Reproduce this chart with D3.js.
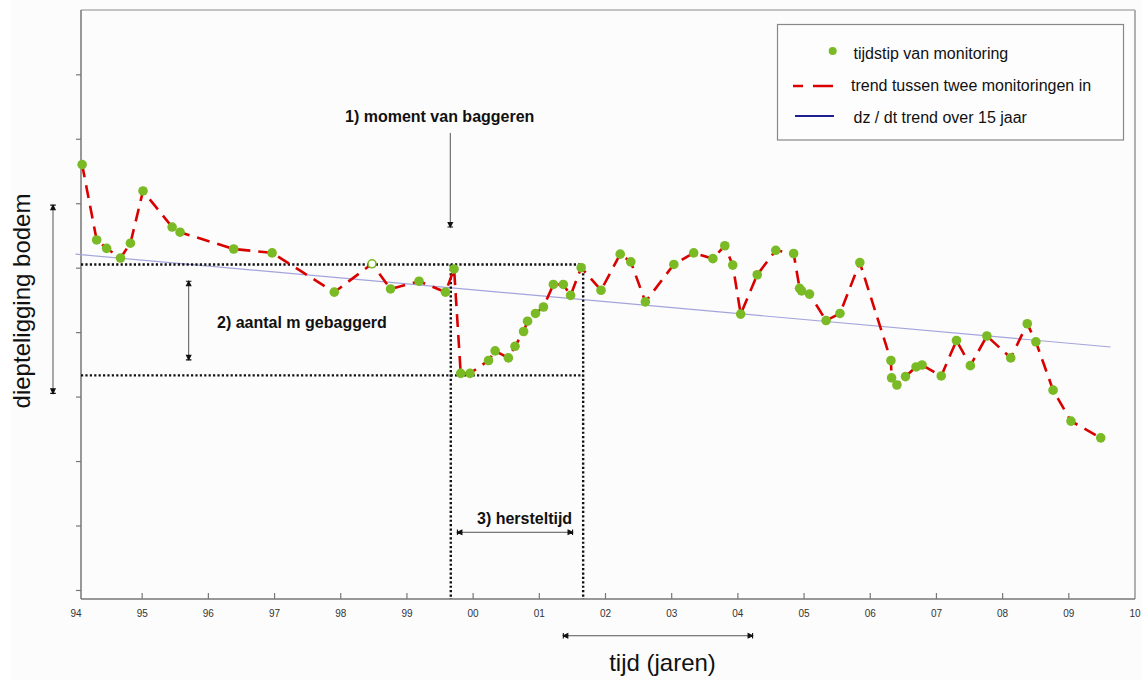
<!DOCTYPE html>
<html>
<head>
<meta charset="utf-8">
<script src="https://cdn.jsdelivr.net/npm/d3@7"></script>
<style>
body { margin: 0; background: #fff; font-family: "Liberation Sans", Arial, sans-serif; }
</style>
</head>
<body>
<svg id="chart" width="1142" height="680"></svg>
<script>
// monitoring moments (decimal year) and bed level (m, arbitrary reference)
var monitorYears = [1994.10, 1994.32, 1994.47, 1994.68, 1994.83, 1995.02, 1995.46, 1995.58, 1996.39, 1996.97,
    1997.91, 1998.48, 1998.76, 1999.19, 1999.59, 1999.72, 1999.82, 1999.96, 2000.24, 2000.34,
    2000.54, 2000.64, 2000.77, 2000.83, 2000.95, 2001.07, 2001.22, 2001.37, 2001.48, 2001.64,
    2001.94, 2002.23, 2002.39, 2002.61, 2003.04, 2003.34, 2003.63, 2003.81, 2003.93, 2004.05,
    2004.30, 2004.58, 2004.85, 2004.94, 2004.97, 2005.09, 2005.34, 2005.55, 2005.85, 2006.32,
    2006.33, 2006.41, 2006.54, 2006.70, 2006.79, 2007.08, 2007.31, 2007.52, 2007.77, 2008.13,
    2008.38, 2008.51, 2008.77, 2009.04, 2009.49];
var bedLevels = [-2.40, -3.57, -3.70, -3.85, -3.62, -2.81, -3.37, -3.45, -3.71, -3.77,
    -4.38, -3.94, -4.33, -4.21, -4.38, -4.02, -5.64, -5.64, -5.44, -5.29,
    -5.40, -5.22, -4.99, -4.83, -4.71, -4.61, -4.26, -4.26, -4.43, -4.00,
    -4.35, -3.79, -3.91, -4.53, -3.95, -3.77, -3.86, -3.66, -3.96, -4.72,
    -4.11, -3.73, -3.78, -4.32, -4.36, -4.41, -4.82, -4.71, -3.92, -5.44,
    -5.71, -5.82, -5.69, -5.54, -5.51, -5.68, -5.13, -5.52, -5.06, -5.40,
    -4.87, -5.15, -5.90, -6.38, -6.64];
var openYears = [1998.48];

// 15 year trend line
var trendYears = [1994.0, 2009.64];
var trendLevels = [-3.79, -5.23];

var xTickYears = [1994, 1995, 1996, 1997, 1998, 1999, 2000, 2001, 2002, 2003, 2004, 2005, 2006, 2007, 2008, 2009, 2010];
var xTickLabels = ['94', '95', '96', '97', '98', '99', '00', '01', '02', '03', '04', '05', '06', '07', '08', '09', '10'];
var yTickLevels = [-1, -2, -3, -4, -5, -6, -7, -8, -9];

var legendLabels = ['tijdstip van monitoring', 'trend tussen twee monitoringen in', 'dz / dt trend over 15 jaar'];

// dredging annotation
var dredgeYear = 1999.67;
var recoveryYear = 2001.67;
var levelBefore = -3.95;
var levelAfter = -5.67;

var width = 1142, height = 680;
var plotLeft = 81, plotTop = 10, plotRight = 1135, plotBottom = 599;

var svg = d3.select('#chart');
var x = d3.scaleLinear().domain([1994, 2010]).range([75.5, 1134.5]);
var y = d3.scaleLinear().domain([0, -9.14]).range([9.84, 599]);

svg.append('rect').attr('width', width).attr('height', height).style('fill', '#fcfcfc');
svg.append('rect').attr('width', 11).attr('height', height).style('fill', '#ffffff');

// markers for the annotation arrows
var defs = svg.append('defs');
defs.append('marker')
    .attr('id', 'bar')
    .attr('viewBox', '-7 -5 9 10')
    .attr('refX', 0).attr('refY', 0)
    .attr('markerUnits', 'userSpaceOnUse')
    .attr('markerWidth', 9).attr('markerHeight', 10)
    .attr('orient', 'auto-start-reverse')
    .append('path')
    .attr('d', 'M-4.5,-2.2 L0,0 L-4.5,2.2 Z M0,-2.8 L0,2.8')
    .style('fill', '#111').style('stroke', '#111').style('stroke-width', 1.1);

// frame
svg.append('line').attr('x1', plotLeft).attr('y1', plotTop).attr('x2', plotRight).attr('y2', plotTop)
    .style('stroke', '#8a8a8a').style('stroke-width', 1.2);
svg.append('line').attr('x1', plotRight).attr('y1', plotTop).attr('x2', plotRight).attr('y2', plotBottom)
    .style('stroke', '#b0b0b0').style('stroke-width', 2);

// axes
var xAxis = d3.axisBottom(x)
    .tickValues(xTickYears)
    .tickFormat(function(d, i) { return xTickLabels[i]; })
    .tickSizeInner(-6).tickSizeOuter(0).tickPadding(11);
var gx = svg.append('g').attr('transform', 'translate(0,' + plotBottom + ')').call(xAxis);
gx.select('.domain').remove();
gx.selectAll('.tick line')
    .style('stroke', '#777').style('stroke-width', 1.2)
    .style('display', function(d) { return (d === 1994 || d === 2010) ? 'none' : null; });
gx.selectAll('.tick text').style('font-size', '10px').style('fill', '#333')
    .style('font-family', '"Liberation Sans", Arial, sans-serif');
svg.append('line').attr('x1', plotLeft).attr('y1', plotBottom).attr('x2', plotRight).attr('y2', plotBottom)
    .style('stroke', '#777').style('stroke-width', 1.5);

var yAxis = d3.axisLeft(y).tickValues(yTickLevels).tickSize(5).tickFormat('');
var gy = svg.append('g').attr('transform', 'translate(' + plotLeft + ',0)').call(yAxis);
gy.select('.domain').remove();
gy.selectAll('.tick line').style('stroke', '#777').style('stroke-width', 1.2);
svg.append('line').attr('x1', plotLeft).attr('y1', plotTop).attr('x2', plotLeft).attr('y2', plotBottom)
    .style('stroke', '#777').style('stroke-width', 1.5);

// trend over 15 years
svg.append('line')
    .attr('x1', x(trendYears[0])).attr('y1', y(trendLevels[0]))
    .attr('x2', x(trendYears[1])).attr('y2', y(trendLevels[1]))
    .style('stroke', '#a4a4dc').style('stroke-width', 1.1);

// dotted dredging box
var dotted = svg.append('g').style('stroke', '#111').style('stroke-width', 2.4).style('stroke-dasharray', '2.2,2.2');
dotted.append('line').attr('x1', plotLeft).attr('x2', x(recoveryYear)).attr('y1', y(levelBefore)).attr('y2', y(levelBefore));
dotted.append('line').attr('x1', plotLeft).attr('x2', x(recoveryYear)).attr('y1', y(levelAfter)).attr('y2', y(levelAfter));
dotted.append('line').attr('x1', x(dredgeYear)).attr('x2', x(dredgeYear)).attr('y1', y(levelBefore)).attr('y2', plotBottom);
dotted.append('line').attr('x1', x(recoveryYear)).attr('x2', x(recoveryYear)).attr('y1', y(levelBefore)).attr('y2', plotBottom);

// dashed trend between monitorings
var points = monitorYears.map(function(d, i) { return {t: d, z: bedLevels[i]}; });
var line = d3.line().x(function(d) { return x(d.t); }).y(function(d) { return y(d.z); });
svg.append('path')
    .datum(points)
    .attr('d', line)
    .style('fill', 'none')
    .style('stroke', '#d90000')
    .style('stroke-width', 2.6)
    .style('stroke-dasharray', '13,8');

svg.selectAll('circle.pt')
    .data(points)
    .enter()
    .append('circle')
    .attr('class', 'pt')
    .attr('cx', function(d) { return x(d.t); })
    .attr('cy', function(d) { return y(d.z); })
    .attr('r', function(d) { return openYears.indexOf(d.t) >= 0 ? 4 : 4.8; })
    .style('fill', function(d) { return openYears.indexOf(d.t) >= 0 ? '#fcfcfc' : '#7aba24'; })
    .style('stroke', function(d) { return openYears.indexOf(d.t) >= 0 ? '#7aba24' : 'none'; })
    .style('stroke-width', 1.6);

// annotation arrows
function arrow(x1, y1, x2, y2, both) {
    var l = svg.append('line')
        .attr('x1', x1).attr('y1', y1).attr('x2', x2).attr('y2', y2)
        .style('stroke', '#555').style('stroke-width', 1)
        .attr('marker-end', 'url(#bar)');
    if (both) l.attr('marker-start', 'url(#bar)');
}
arrow(x(dredgeYear) - 0.5, y(-1.91), x(dredgeYear) - 0.5, y(-3.37), false);
arrow(x(1995.71), y(-4.21), x(1995.71), y(-5.43), true);
arrow(x(1993.66), y(-3.03), x(1993.66), y(-5.95), true);
arrow(x(1999.77), y(-8.105), x(2001.51), y(-8.105), true);
arrow(x(2001.37), y(-9.71), x(2004.23), y(-9.71), true);

var notes = svg.append('g')
    .style('font-weight', 'bold').style('font-size', '16px').style('fill', '#111')
    .style('font-family', '"Liberation Sans", Arial, sans-serif');
notes.append('text').attr('x', 345).attr('y', 122).text('1) moment van baggeren');
notes.append('text').attr('x', 217).attr('y', 328).text('2) aantal m gebaggerd');
notes.append('text').attr('x', 477).attr('y', 524).text('3) hersteltijd');

// axis titles
svg.append('text')
    .attr('x', 662.5).attr('y', 671)
    .attr('text-anchor', 'middle')
    .style('font-size', '24px').style('fill', '#111')
    .text('tijd (jaren)');
svg.append('text')
    .attr('transform', 'translate(30,301) rotate(-90)')
    .attr('text-anchor', 'middle')
    .style('font-size', '24px').style('fill', '#111')
    .text('diepteligging bodem');

// legend
var legend = svg.append('g');
legend.append('rect')
    .attr('x', 777.5).attr('y', 24.5).attr('width', 346).attr('height', 115.5)
    .style('fill', '#fdfdfd').style('stroke', '#888').style('stroke-width', 1.2);
legend.append('circle').attr('cx', 832.7).attr('cy', 51).attr('r', 4).style('fill', '#7aba24');
legend.append('line').attr('x1', 793).attr('x2', 834).attr('y1', 86).attr('y2', 86)
    .style('stroke', '#d90000').style('stroke-width', 2.6).style('stroke-dasharray', '10,10,20');
legend.append('line').attr('x1', 795).attr('x2', 834).attr('y1', 116).attr('y2', 116)
    .style('stroke', '#1f1f8f').style('stroke-width', 2);
legend.selectAll('text')
    .data(legendLabels)
    .enter()
    .append('text')
    .attr('x', function(d, i) { return i === 1 ? 851 : 853.5; })
    .attr('y', function(d, i) { return [58.5, 91, 122.5][i]; })
    .style('font-size', '16px').style('fill', '#111')
    .text(function(d) { return d; });
</script>
</body>
</html>
